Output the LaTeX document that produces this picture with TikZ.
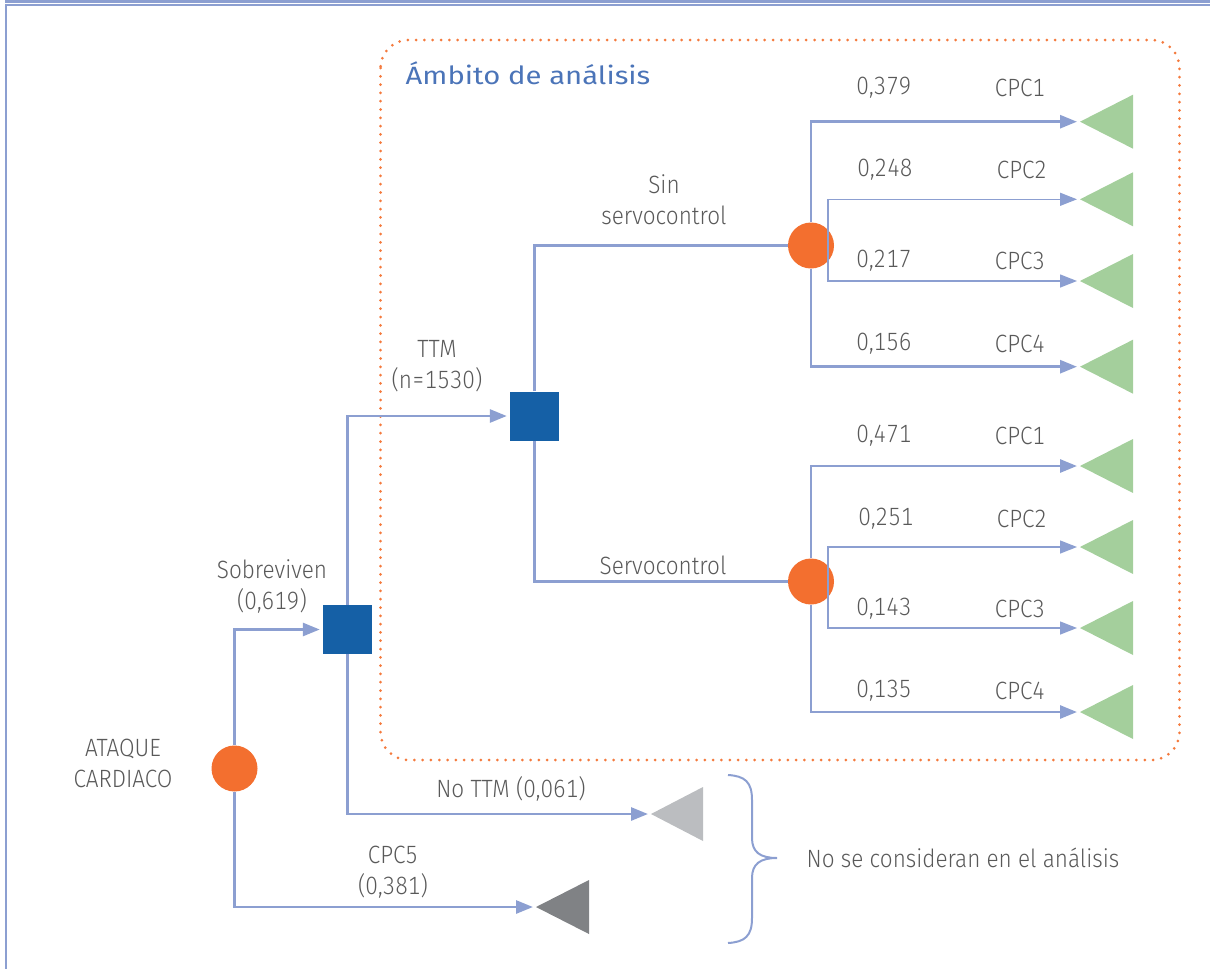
\documentclass[tikz,border=0pt]{standalone}
\usepackage{fontspec}
\setmainfont{Fira Sans}[UprightFont=* Light, FakeStretch=0.9, Numbers=Monospaced]
\newfontfamily\titlefont{Fira Sans}[FakeStretch=1.17]
\usetikzlibrary{arrows.meta,calc}
\definecolor{linecol}{HTML}{8C9FD1}
\definecolor{orng}{HTML}{F36F2F}
\definecolor{sqblue}{HTML}{1560A6}
\definecolor{grn}{HTML}{A4CF9C}
\definecolor{lgray}{HTML}{BBBDC0}
\definecolor{dgray}{HTML}{808285}
\definecolor{txtgray}{HTML}{595959}
\definecolor{titleblue}{HTML}{4B74B8}
\definecolor{dotor}{HTML}{F47A3D}
\begin{document}
\begin{tikzpicture}[x=1pt,y=-1pt,
  thk/.style={draw=linecol,line width=2.8pt},
  thn/.style={draw=linecol,line width=1.4pt},
  arr/.style={-{Triangle[length=17pt,width=13pt]},shorten >=3pt},
  sq/.style={fill=sqblue,minimum size=49pt,inner sep=0pt},
  circ/.style={circle,fill=orng,minimum size=46pt,inner sep=0pt},
  lbl/.style={text=txtgray,font=\fontsize{25}{31}\selectfont,inner sep=0pt,align=center}]
\useasboundingbox (0,0) rectangle (1210,969);
% frame
\fill[linecol] (5,0) rectangle (1210,3);
\fill[linecol] (5,4) rectangle (1210,6.3);
\fill[linecol] (5,4) rectangle (7.3,969);
% analysis region
\draw[dotor,line width=3pt,line cap=round,dash pattern=on 0pt off 8.3pt,rounded corners=28pt]
  (380.5,40) rectangle (1179.5,760);
\node[text=titleblue,font=\titlefont\fontsize{25}{30}\selectfont,inner sep=0pt] (title) at (528,73) {Ámbito de análisis};
% decision/chance nodes
\node[circ] (c0) at (234.5,768.5) {};
\node[sq] (s1) at (347.5,629.5) {};
\node[sq] (s2) at (534.5,416) {};
\node[circ] (c1) at (811,245.5) {};
\node[circ] (c2) at (811,581.5) {};
% terminal tips
\coordinate (t5) at (536,907);
\coordinate (tn) at (651,814);
\foreach \n/\y in {a1/121.7,a2/199.3,a3/281,a4/366.7,b1/466,b2/547,b3/628,b4/712}{
  \coordinate (\n) at (1080,\y);
}
% triangles
\fill[dgray] (t5) -- ++(53,-27) -- ++(0,54) -- cycle;
\fill[lgray] (tn) -- ++(52,-27) -- ++(0,54) -- cycle;
\foreach \n in {a1,a2,a3,a4,b1,b2,b3,b4}{
  \fill[grn] (\n) -- ++(53,-27) -- ++(0,54) -- cycle;
}
% connectors
\draw[thk,arr] (c0.north) |- (s1.west);
\draw[thk,arr] (c0.south) |- (t5);
\draw[thk,arr] (s1.north) |- (s2.west);
\draw[thk,arr] (s1.south) |- (tn);
\draw[thk] (s2.north) |- (c1.west);
\draw[thk] (s2.south) |- (c2.west);
\draw[thk,arr] (c1.north) |- (a1);
\draw[thn,arr] ([xshift=17pt]c1.center) |- (a2);
\draw[thn,arr] ([xshift=17pt]c1.center) |- (a3);
\draw[thk,arr] (c1.south) |- (a4);
\draw[thk,arr] (c2.north) |- (b1);
\draw[thn,arr] ([xshift=17pt]c2.center) |- (b2);
\draw[thn,arr] ([xshift=17pt]c2.center) |- (b3);
\draw[thk,arr] (c2.south) |- (b4);
% brace
\draw[linecol,line width=2pt] (728,775) .. controls (745,776) and (752,782) .. (752,800)
  -- (752,838) .. controls (752,852) and (760,858) .. (777,858)
  .. controls (760,858) and (752,864) .. (752,878)
  -- (752,918) .. controls (752,936) and (745,942) .. (728,943);
% labels
\node[lbl] (l0) at (123,763) {ATAQUE\\CARDIACO};
\node[lbl] (l1) at (272,586) {Sobreviven\\(0,619)};
\node[lbl] (l3) at (437,366) {TTM\\(n=1530)};
\node[lbl] (l4) at (511,789) {No TTM (0,061)};
\node[lbl] (l5) at (393,872) {CPC5\\(0,381)};
\node[lbl] (l6) at (664,200) {Sin\\servocontrol};
\node[lbl] (l7) at (663,565) {Servocontrol};
\node[lbl] (l8) at (963,858) {No se consideran en el análisis};
\node[lbl] (p1) at (884,88) {0,379};  \node[lbl] (q1) at (1020,88) {CPC1};
\node[lbl] (p2) at (885,170) {0,248}; \node[lbl] (q2) at (1022,170) {CPC2};
\node[lbl] (p3) at (884,261) {0,217}; \node[lbl] (q3) at (1020,261) {CPC3};
\node[lbl] (p4) at (884,344) {0,156}; \node[lbl] (q4) at (1020,344) {CPC4};
\node[lbl] (p5) at (884,436) {0,471}; \node[lbl] (q5) at (1020,436) {CPC1};
\node[lbl] (p6) at (886,519) {0,251}; \node[lbl] (q6) at (1022,519) {CPC2};
\node[lbl] (p7) at (884,609) {0,143}; \node[lbl] (q7) at (1020,609) {CPC3};
\node[lbl] (p8) at (884,691) {0,135}; \node[lbl] (q8) at (1020,691) {CPC4};
\end{tikzpicture}
\end{document}
